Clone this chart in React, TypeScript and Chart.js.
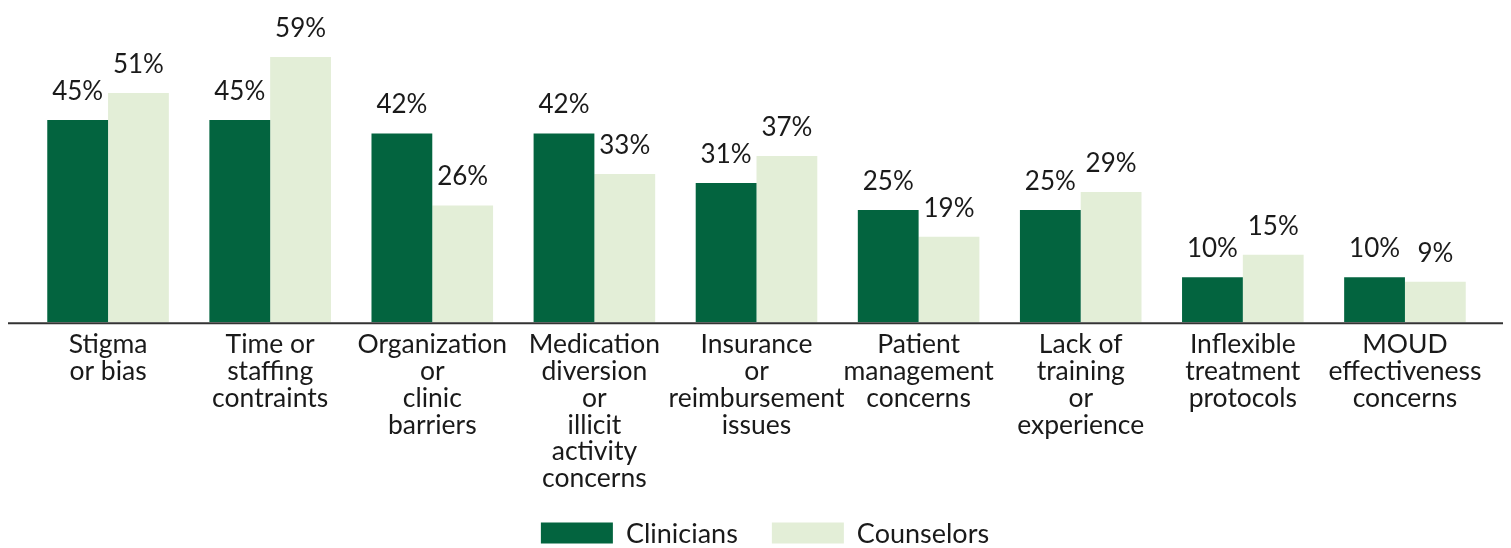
import React, { useEffect, useRef } from "react";
import { Chart, registerables } from "chart.js";

Chart.register(...registerables);

const categories: string[][] = [
  ["Stigma", "or bias"],
  ["Time or", "staffing", "contraints"],
  ["Organization", "or", "clinic", "barriers"],
  ["Medication", "diversion", "or", "illicit", "activity", "concerns"],
  ["Insurance", "or", "reimbursement", "issues"],
  ["Patient", "management", "concerns"],
  ["Lack of", "training", "or", "experience"],
  ["Inflexible", "treatment", "protocols"],
  ["MOUD", "effectiveness", "concerns"],
];
const clinicians: number[] = [45, 45, 42, 42, 31, 25, 25, 10, 10];
const counselors: number[] = [51, 59, 26, 33, 37, 19, 29, 15, 9];

const DARK = "#03643f";
const LIGHT = "#e3eed7";
const TEXT = "#1a1a1a";
const FONT = "Lato, 'Noto Sans', sans-serif";

const valueLabels = {
  id: "valueLabels",
  afterDatasetsDraw(chart: any) {
    const ctx = chart.ctx;
    ctx.save();
    ctx.font = `26px ${FONT}`;
    ctx.fillStyle = TEXT;
    ctx.textAlign = "center";
    ctx.textBaseline = "alphabetic";
    chart.data.datasets.forEach((ds: any, di: number) => {
      const meta = chart.getDatasetMeta(di);
      meta.data.forEach((bar: any, i: number) => {
        ctx.fillText(`${ds.data[i]}%`, bar.x, bar.y - 20);
      });
    });
    ctx.restore();
  },
};

const axisLine = {
  id: "axisLine",
  afterDatasetsDraw(chart: any) {
    const { ctx, chartArea } = chart;
    ctx.save();
    ctx.strokeStyle = "#333333";
    ctx.lineWidth = 2;
    ctx.beginPath();
    ctx.moveTo(chartArea.left - 19, chartArea.bottom + 1);
    ctx.lineTo(chartArea.right + 19, chartArea.bottom + 1);
    ctx.stroke();
    ctx.restore();
  },
};

const customLegend = {
  id: "customLegend",
  afterDraw(chart: any) {
    const ctx = chart.ctx;
    ctx.save();
    ctx.font = `27px ${FONT}`;
    ctx.textBaseline = "middle";
    ctx.textAlign = "left";
    const boxW = 72;
    const boxH = 21;
    const gapText = 13;
    const gapItem = 34;
    const items = chart.data.datasets.map((ds: any) => ({
      label: ds.label,
      color: ds.backgroundColor,
      w: ctx.measureText(ds.label).width,
    }));
    const total =
      items.reduce((s: number, it: any) => s + boxW + gapText + it.w, 0) +
      gapItem * (items.length - 1);
    let x = 757 - total / 2;
    const cy = 525;
    items.forEach((it: any) => {
      ctx.fillStyle = it.color;
      ctx.fillRect(x, cy - boxH / 2, boxW, boxH);
      x += boxW + gapText;
      ctx.fillStyle = TEXT;
      ctx.fillText(it.label, x, cy + 1);
      x += it.w + gapItem;
    });
    ctx.restore();
  },
};

export default function App() {
  const ref = useRef<HTMLCanvasElement | null>(null);
  useEffect(() => {
    if (!ref.current) return;
    const chart = new Chart(ref.current, {
      type: "bar",
      data: {
        labels: categories,
        datasets: [
          { label: "Clinicians", data: clinicians, backgroundColor: DARK },
          { label: "Counselors", data: counselors, backgroundColor: LIGHT },
        ],
      },
      options: {
        animation: false,
        responsive: false,
        maintainAspectRatio: false,
        layout: { padding: { left: 19, right: 17, top: 44.6, bottom: 55 } },
        datasets: {
          bar: { categoryPercentage: 0.75, barPercentage: 1.0 },
        } as any,
        scales: {
          x: {
            grid: { display: false },
            border: { display: false },
            ticks: {
              color: TEXT,
              font: { size: 26.5, family: FONT, lineHeight: 1.011 },
              maxRotation: 0,
              autoSkip: false,
              padding: 1,
            },
          },
          y: { display: false, min: 0, max: 60 },
        },
        plugins: {
          legend: { display: false },
          tooltip: { enabled: false },
        },
      },
      plugins: [valueLabels, axisLine, customLegend],
    });
    return () => chart.destroy();
  }, []);
  return (
    <div style={{ position: "fixed", top: 8, left: 8, width: 1495, height: 540 }}>
      <canvas ref={ref} width={1495} height={540} style={{ display: "block", width: 1495, height: 540 }} />
    </div>
  );
}
